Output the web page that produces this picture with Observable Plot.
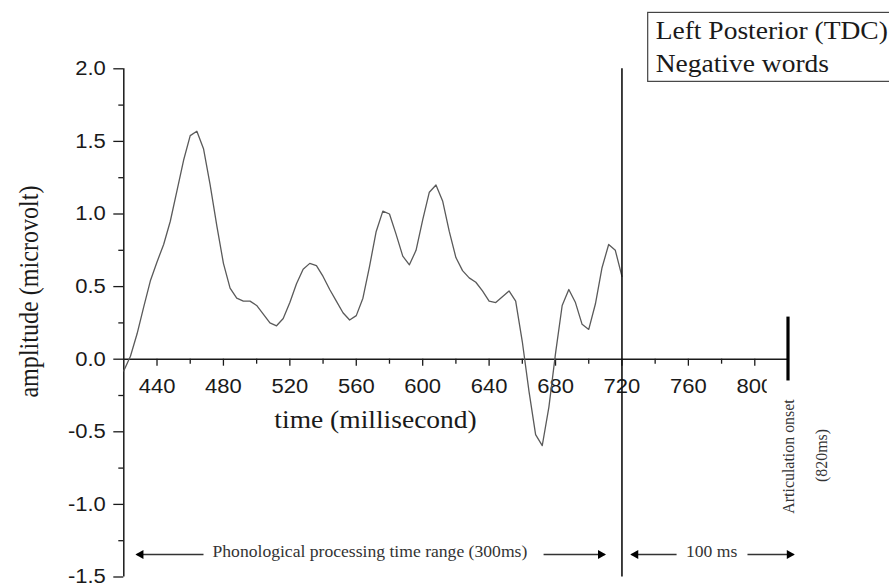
<!DOCTYPE html>
<html>
<head>
<meta charset="utf-8">
<script src="https://cdn.jsdelivr.net/npm/d3@7"></script>
<script src="https://cdn.jsdelivr.net/npm/@observablehq/plot@0.6"></script>
<style>
  body { margin: 0; background: #fff; }
  #chart { width: 889px; height: 586px; overflow: hidden; }
</style>
</head>
<body>
<div id="chart"></div>
<script>
// ---- data ----
const times = [420,424,428,432,436,440,444,448,452,456,460,464,468,472,476,480,484,488,492,496,
  500,504,508,512,516,520,524,528,532,536,540,544,548,552,556,560,564,568,572,576,
  580,584,588,592,596,600,604,608,612,616,620,624,628,632,636,640,644,648,652,656,
  660,664,668,672,676,680,684,688,692,696,700,704,708,712,716,720];
const amplitudes = [-0.08,0.02,0.175,0.36,0.54,0.67,0.79,0.95,1.16,1.37,1.54,1.57,1.45,1.20,0.92,0.66,0.49,0.42,0.40,0.40,
  0.37,0.31,0.25,0.23,0.28,0.39,0.52,0.62,0.66,0.645,0.57,0.48,0.40,0.32,0.27,0.30,0.42,0.64,0.88,1.02,
  1.00,0.86,0.71,0.65,0.75,0.96,1.15,1.20,1.09,0.88,0.70,0.61,0.56,0.53,0.47,0.40,0.39,0.43,0.47,0.40,
  0.12,-0.22,-0.52,-0.595,-0.33,0.04,0.37,0.48,0.39,0.24,0.205,0.38,0.63,0.79,0.75,0.57];

const xMajorTicks = [440,480,520,560,600,640,680,720,760,800];
const xMinorTicks = [460,500,540,580,620,660,700,740,780];
const yMajorTicks = [-1.5,-1.0,-0.5,0.0,0.5,1.0,1.5,2.0];
const yMinorTicks = [-1.25,-0.75,-0.25,0.25,0.75,1.25,1.75];

const legendLines = ["Left Posterior (TDC)", "Negative words"];
const legendLineY = [2.262, 2.036];

const phonologicalLabel = "Phonological processing time range (300ms)";
const onsetLabel = "100 ms";
const articulationLabel = "Articulation onset";
const articulationTime = "(820ms)";
const stimulusBoundary = 720;
const articulationOnset = 820;

const arrowFrom = [468, 672.8, 752.9, 795.6];
const arrowTo   = [427.8, 709.6, 725.8, 823.3];
const arrowLevel = -1.345;

const xTitle = "time (millisecond)";
const yTitle = "amplitude (microvolt)";

// ---- layout ----
const W = 889, H = 586;
const mL = 123.3, mR = 101.5, mT = 68.3, mB = 9.5;
const pxPerY = (H - mT - mB) / 3.5;
const pxPerX = (W - mL - mR) / 400;
const SX = 1.1; // horizontal stretch of the original picture
const serif = "'Liberation Serif','Times New Roman',serif";
const sans = "'Liberation Sans',Arial,sans-serif";

const data = times.map((t, i) => ({t, v: amplitudes[i]}));
const arrows = arrowFrom.map((a, i) => ({x1: a, x2: arrowTo[i], y: arrowLevel}));
const rightArrows = arrows.filter(d => d.x2 > d.x1);
const leftArrows = arrows.filter(d => d.x2 < d.x1);

const plot = Plot.plot({
  width: W, height: H,
  marginLeft: mL, marginRight: mR, marginTop: mT, marginBottom: mB,
  x: {domain: [420, 820], axis: null},
  y: {domain: [-1.5, 2], axis: null},
  style: {background: "white", overflow: "visible", color: "#111"},
  marks: [
    // y axis
    Plot.ruleX([420], {y1: -1.5, y2: 2, stroke: "#1a1a1a", strokeWidth: 1.5}),
    Plot.ruleY(yMajorTicks, {y: d => d, x1: 420, x2: 420 - 10 / pxPerX, stroke: "#1a1a1a", strokeWidth: 1.3}),
    Plot.ruleY(yMinorTicks, {y: d => d, x1: 420, x2: 420 - 5 / pxPerX, stroke: "#1a1a1a", strokeWidth: 1.3}),
    Plot.text(yMajorTicks, {x: 420, y: d => d, text: d => d.toFixed(1), dx: -18, textAnchor: "end",
      fontSize: 20, fontFamily: sans, fill: "#1a1a1a"}),
    // x axis along y = 0
    Plot.ruleY([0], {x1: 420, x2: 820, stroke: "#1a1a1a", strokeWidth: 1.5}),
    Plot.ruleX(xMajorTicks, {x: d => d, y1: 0, y2: -7 / pxPerY, stroke: "#1a1a1a", strokeWidth: 1.3}),
    Plot.ruleX(xMinorTicks, {x: d => d, y1: 0, y2: -5 / pxPerY, stroke: "#1a1a1a", strokeWidth: 1.3}),
    Plot.text(xMajorTicks, {x: d => d, y: 0, text: d => String(d), dy: 27,
      fontSize: 20, fontFamily: sans, fill: "#1a1a1a"}),
    // axis titles
    Plot.text([xTitle], {x: 571.6, y: -0.422, text: d => d, fontSize: 25, fontFamily: serif, fill: "#1a1a1a"}),
    Plot.text([yTitle], {x: 363.5, y: 0.466, text: d => d, rotate: -90, fontSize: 26.5, fontFamily: serif, fill: "#1a1a1a"}),
    // white patch behind the articulation note (clips the last tick label)
    Plot.rect([0], {x1: 807.5, x2: 858, y1: -1.19, y2: -0.135, fill: "white", stroke: "none"}),
    // signal
    Plot.line(data, {x: "t", y: "v", stroke: "#5a5a5a", strokeWidth: 1.3, curve: "linear"}),
    // vertical markers
    Plot.ruleX([stimulusBoundary], {y1: -1.5, y2: 2, stroke: "#111", strokeWidth: 1.6}),
    Plot.ruleX([articulationOnset], {y1: -0.15, y2: 0.29, stroke: "#000", strokeWidth: 3.2}),
    // articulation note
    Plot.text([articulationLabel], {x: 820.1, y: -0.67, text: d => d, rotate: -90, fontSize: 17.5, fontFamily: serif, fill: "#333"}),
    Plot.text([articulationTime], {x: 840, y: -0.663, text: d => d, rotate: -90, fontSize: 17.5, fontFamily: serif, fill: "#333"}),
    // time range arrows and labels
    Plot.link(arrows, {x1: "x1", x2: "x2", y1: "y", y2: "y", stroke: "#333", strokeWidth: 1.3}),
    Plot.dot(rightArrows, {x: "x2", y: "y", symbol: "triangle2", r: 4.4, fill: "#000", stroke: "none", rotate: 90, dx: -4}),
    Plot.dot(leftArrows, {x: "x2", y: "y", symbol: "triangle2", r: 4.4, fill: "#000", stroke: "none", rotate: -90, dx: 4}),
    Plot.text([phonologicalLabel], {x: 568.2, y: -1.33, text: d => d, fontSize: 16, fontFamily: serif, fill: "#333"}),
    Plot.text([onsetLabel], {x: 774, y: -1.33, text: d => d, fontSize: 16, fontFamily: serif, fill: "#333"}),
    // legend box
    Plot.rect([0], {x1: 735.8, x2: 900, y1: 1.91, y2: 2.385, fill: "white", stroke: "#444", strokeWidth: 1.2}),
    Plot.text(legendLines, {x: 740.3, y: (d, i) => legendLineY[i], text: d => d, textAnchor: "start",
      fontSize: 25, fontFamily: serif, fill: "#1a1a1a"})
  ]
});

document.getElementById("chart").append(plot);

// the original picture is stretched horizontally: reproduce that on every text
plot.querySelectorAll("text").forEach(t => {
  const w = t.getComputedTextLength();
  if (!w) return;
  const tr = (t.getAttribute("transform") || "") + (t.parentNode.getAttribute("transform") || "");
  const rotated = tr.includes("rotate");
  t.setAttribute("textLength", (rotated ? w / SX : w * SX).toFixed(1));
  t.setAttribute("lengthAdjust", "spacingAndGlyphs");
});
</script>
</body>
</html>
